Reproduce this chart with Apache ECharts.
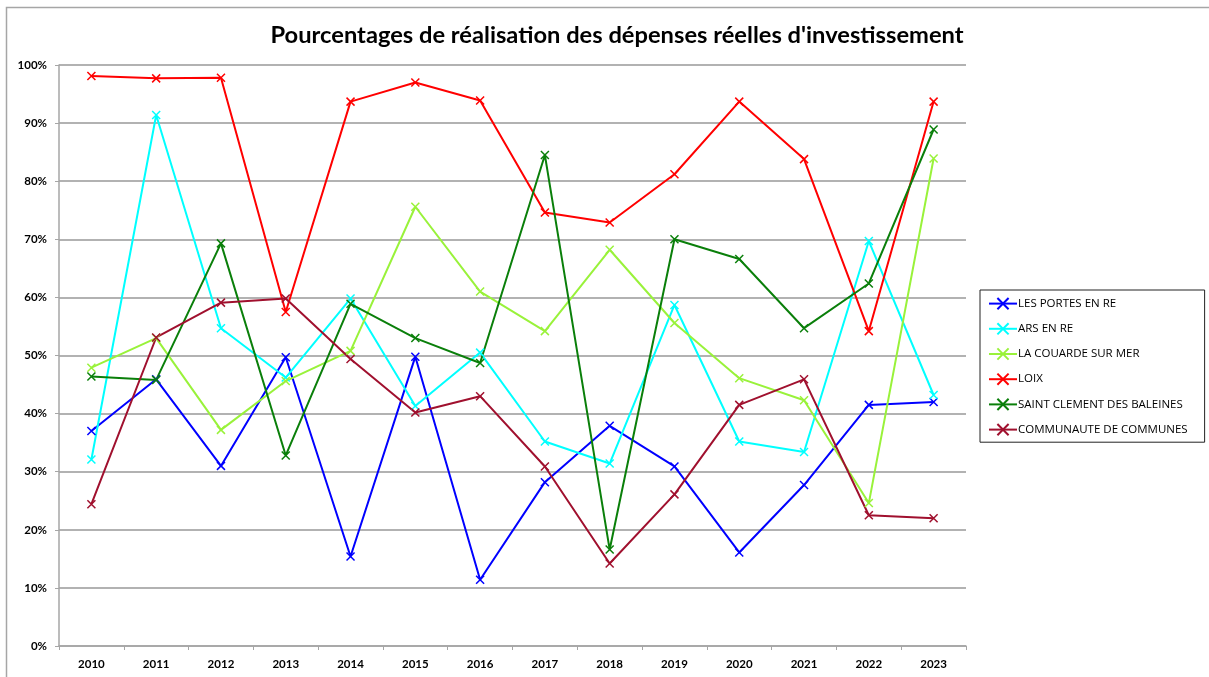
<!DOCTYPE html>
<html>
<head>
<meta charset="utf-8">
<script src="https://cdn.jsdelivr.net/npm/echarts@6/dist/echarts.min.js"></script>
<style>
  html, body { margin: 0; padding: 0; background: #fff; }
  #chart { width: 1209px; height: 677px; }
</style>
</head>
<body>
<div id="chart"></div>
<script>
// Years on the category axis
const years = ['2010','2011','2012','2013','2014','2015','2016','2017','2018','2019','2020','2021','2022','2023'];

// Realisation rate (%) per commune
const lesPortes   = [37.0, 45.9, 31.0, 49.7, 15.4, 49.8, 11.4, 28.2, 37.9, 30.9, 16.1, 27.7, 41.5, 42.0];
const arsEnRe     = [32.1, 91.4, 54.7, 46.2, 59.8, 41.3, 50.5, 35.2, 31.4, 58.7, 35.2, 33.4, 69.7, 43.2];
const laCouarde   = [47.9, 53.0, 37.2, 45.6, 50.8, 75.6, 61.0, 54.2, 68.2, 55.6, 46.1, 42.3, 24.6, 83.9];
const loix        = [98.1, 97.7, 97.8, 57.5, 93.7, 97.0, 93.9, 74.6, 72.9, 81.2, 93.7, 83.8, 54.2, 93.7];
const saintClement= [46.4, 45.8, 69.3, 32.8, 58.9, 53.0, 48.7, 84.5, 16.6, 70.0, 66.6, 54.7, 62.4, 88.9];
const communaute  = [24.4, 53.1, 59.1, 59.8, 49.4, 40.2, 43.0, 30.9, 14.2, 26.1, 41.5, 45.9, 22.5, 22.0];

const seriesNames = ['LES PORTES EN RE','ARS EN RE','LA COUARDE SUR MER','LOIX','SAINT CLEMENT DES BALEINES','COMMUNAUTE DE COMMUNES'];
const seriesData  = [lesPortes, arsEnRe, laCouarde, loix, saintClement, communaute];
const seriesColors = ['#0000FF','#00FFFF','#99F23A','#FF0000','#0A7F0A','#A0102E'];

// Percentage ticks on the value axis
const yMin = 0, yMax = 100, yStep = 10;

const cross = 'path://M0,0L10,10M10,0L0,10';

const chart = echarts.init(document.getElementById('chart'), null, { renderer: 'canvas' });

chart.setOption({
  animation: false,
  backgroundColor: '#ffffff',
  textStyle: { fontFamily: 'Lato, "Open Sans", sans-serif' },
  graphic: [{
    type: 'rect',
    shape: { x: 6.5, y: 7.5, width: 1300, height: 800 },
    style: { fill: 'none', stroke: '#a6a6a6', lineWidth: 1.5 },
    silent: true
  }],
  title: {
    text: "Pourcentages de réalisation des dépenses réelles d'investissement",
    left: 612,
    textAlign: 'center',
    top: 18,
    textStyle: { fontSize: 23.7, fontWeight: 'bold', color: '#000', fontFamily: 'Lato, sans-serif' }
  },
  legend: {
    orient: 'vertical',
    left: 980,
    top: 290,
    padding: [7, 17, 6, 8],
    itemGap: 12,
    itemWidth: 28,
    itemHeight: 14,
    borderColor: '#222',
    borderWidth: 1,
    backgroundColor: '#fff',
    textStyle: { fontSize: 11.5, color: '#000', fontFamily: '"Open Sans", sans-serif', padding: [0, 0, 0, -4] },
    data: seriesNames.map(n => ({ name: n }))
  },
  grid: { left: 59, right: 243, top: 65, bottom: 31, containLabel: false },
  xAxis: {
    type: 'category',
    data: years,
    boundaryGap: true,
    axisLine: { lineStyle: { color: '#a6a6a6', width: 1.5 } },
    axisTick: { show: true, length: 4, lineStyle: { color: '#a6a6a6' } },
    axisLabel: { color: '#000', fontWeight: 'bold', fontSize: 11.5, margin: 12, fontFamily: 'Lato, sans-serif' },
    splitLine: { show: false }
  },
  yAxis: {
    type: 'value',
    min: yMin,
    max: yMax,
    interval: yStep,
    axisLine: { show: true, lineStyle: { color: '#a6a6a6', width: 1.5 } },
    axisTick: { show: true, length: 4, lineStyle: { color: '#a6a6a6' } },
    axisLabel: { formatter: '{value}%', color: '#000', fontWeight: 'bold', fontSize: 11.5, margin: 12, fontFamily: 'Lato, sans-serif' },
    splitLine: { show: true, lineStyle: { color: '#999999', width: 1.5 } }
  },
  series: seriesNames.map((name, i) => ({
    name,
    type: 'line',
    data: seriesData[i],
    symbol: cross,
    symbolSize: 8,
    showAllSymbol: true,
    lineStyle: { color: seriesColors[i], width: 2 },
    itemStyle: { color: seriesColors[i], borderColor: seriesColors[i], borderWidth: 1.5 },
    emphasis: { disabled: true }
  }))
});
</script>
</body>
</html>
